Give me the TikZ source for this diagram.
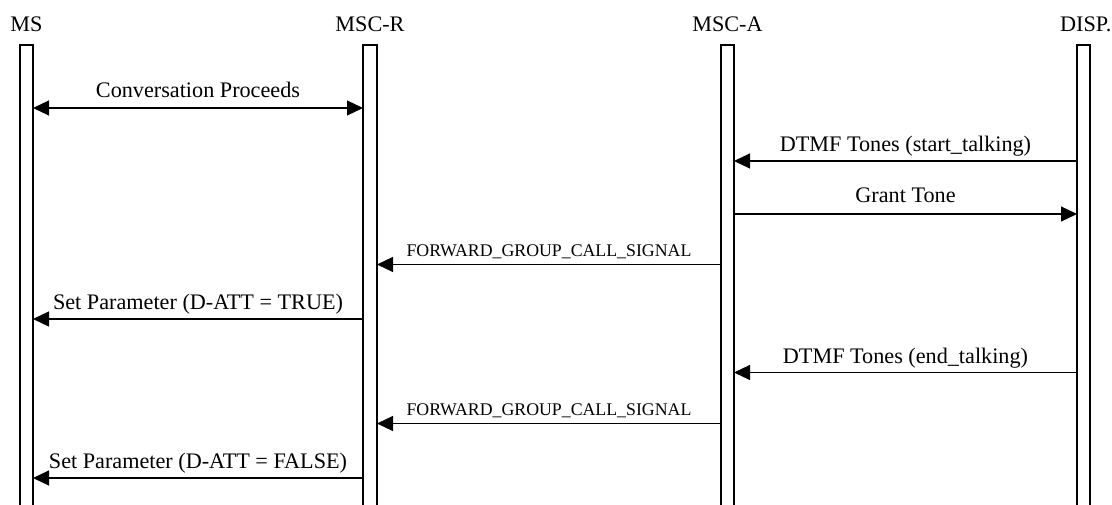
\documentclass[tikz,border=0pt]{standalone}
\usepackage{fontspec}
\setmainfont{Liberation Serif}
\usetikzlibrary{arrows.meta}
\begin{document}
\begin{tikzpicture}[x=1pt,y=-1pt,
  big/.style={font=\fontsize{22.2}{26}\selectfont, inner sep=0pt},
  small/.style={font=\fontsize{17.8}{21}\selectfont, inner sep=0pt},
  msg/.style={line width=1.1pt, -{Triangle[length=16pt,width=15pt]}},
  bimsg/.style={line width=1.1pt, {Triangle[length=16pt,width=15pt]}-{Triangle[length=16pt,width=15pt]}},
  lifeline/.style={line width=1.3pt}]
\useasboundingbox (0,0) rectangle (1112,505);
% lifeline heads
\node[big, anchor=base] (ms) at (26.5,32) {MS};
\node[big, anchor=base] (mscr) at (370,32) {MSC-R};
\node[big, anchor=base] (msca) at (727.5,32) {MSC-A};
\node[big, anchor=base east] (disp) at (1111.5,32) {DISP.};
% bars
\draw[lifeline] (20,510) -- (20,45) -- (33,45) -- (33,510);
\draw[lifeline] (363,510) -- (363,45) -- (377,45) -- (377,510);
\draw[lifeline] (721,510) -- (721,45) -- (734,45) -- (734,510);
\draw[lifeline] (1077,510) -- (1077,45) -- (1090,45) -- (1090,510);
% message end points
\coordinate (a1) at (33,108);   \coordinate (b1) at (363,108);
\coordinate (c2) at (734,161);  \coordinate (d2) at (1077,161);
\coordinate (c3) at (734,214);  \coordinate (d3) at (1077,214);
\coordinate (b4) at (377,264.5);\coordinate (c4) at (721,264.5);
\coordinate (a5) at (33,319);   \coordinate (b5) at (363,319);
\coordinate (c6) at (734,372.5);\coordinate (d6) at (1077,372.5);
\coordinate (b7) at (377,423.5);\coordinate (c7) at (721,423.5);
\coordinate (a8) at (33,478);   \coordinate (b8) at (363,478);
% messages
\draw[bimsg] (a1) -- (b1);
\node[big, anchor=base] (t1) at (198,98) {Conversation Proceeds};
\draw[msg] (d2) -- (c2);
\node[big, anchor=base] (t2) at (905.5,151.5) {DTMF Tones (start\_talking)};
\draw[msg] (c3) -- (d3);
\node[big, anchor=base] (t3) at (905.5,203) {Grant Tone};
\draw[msg] (c4) -- (b4);
\node[small, anchor=base] (t4) at (549,256.5) {FORWARD\_GROUP\_CALL\_SIGNAL};
\draw[msg] (b5) -- (a5);
\node[big, anchor=base] (t5) at (198,309) {Set Parameter (D-ATT = TRUE)};
\draw[msg] (d6) -- (c6);
\node[big, anchor=base] (t6) at (905.5,363) {DTMF Tones (end\_talking)};
\draw[msg] (c7) -- (b7);
\node[small, anchor=base] (t7) at (549,415.5) {FORWARD\_GROUP\_CALL\_SIGNAL};
\draw[msg] (b8) -- (a8);
\node[big, anchor=base] (t8) at (198,468) {Set Parameter (D-ATT = FALSE)};
\end{tikzpicture}
\end{document}
